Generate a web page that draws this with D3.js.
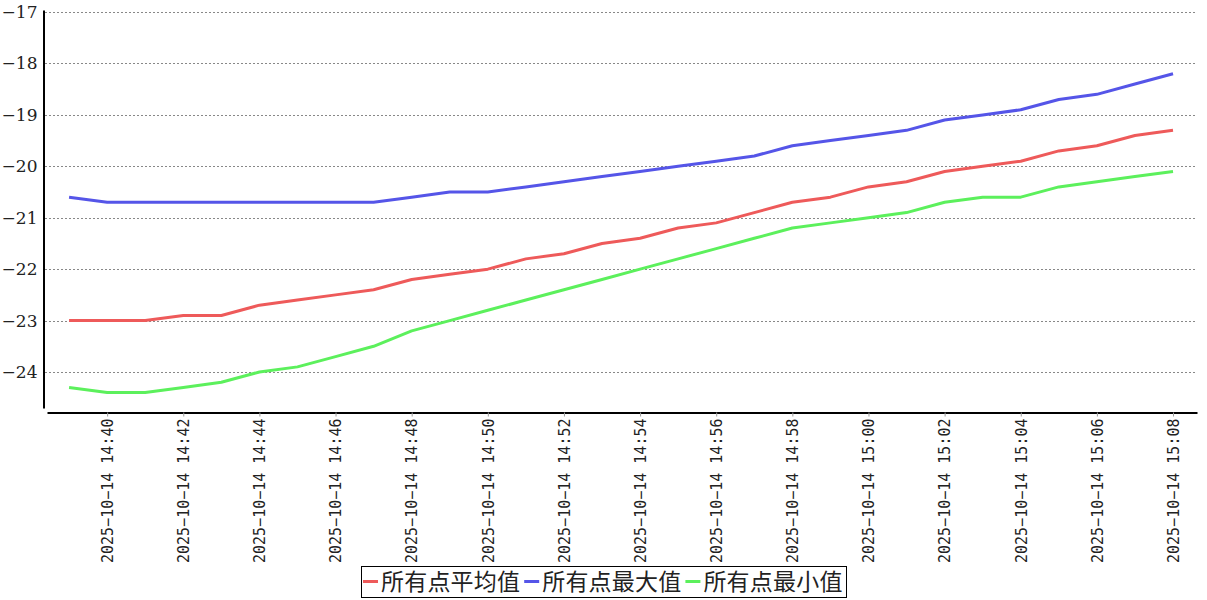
<!DOCTYPE html>
<html><head><meta charset="utf-8">
<script src="https://cdn.jsdelivr.net/npm/d3@7"></script>
<style>body{margin:0;background:#fff}svg{display:block}</style>
</head><body><svg id="c" width="1207" height="600"></svg>
<script>
const times = ["14:39","14:40","14:41","14:42","14:43","14:44","14:45","14:46","14:47","14:48","14:49","14:50","14:51","14:52","14:53","14:54","14:55","14:56","14:57","14:58","14:59","15:00","15:01","15:02","15:03","15:04","15:05","15:06","15:07","15:08"];
const avgVals = [-23.0,-23.0,-23.0,-22.9,-22.9,-22.7,-22.6,-22.5,-22.4,-22.2,-22.1,-22.0,-21.8,-21.7,-21.5,-21.4,-21.2,-21.1,-20.9,-20.7,-20.6,-20.4,-20.3,-20.1,-20.0,-19.9,-19.7,-19.6,-19.4,-19.3];
const maxVals = [-20.6,-20.7,-20.7,-20.7,-20.7,-20.7,-20.7,-20.7,-20.7,-20.6,-20.5,-20.5,-20.4,-20.3,-20.2,-20.1,-20.0,-19.9,-19.8,-19.6,-19.5,-19.4,-19.3,-19.1,-19.0,-18.9,-18.7,-18.6,-18.4,-18.2];
const minVals = [-24.3,-24.4,-24.4,-24.3,-24.2,-24.0,-23.9,-23.7,-23.5,-23.2,-23.0,-22.8,-22.6,-22.4,-22.2,-22.0,-21.8,-21.6,-21.4,-21.2,-21.1,-21.0,-20.9,-20.7,-20.6,-20.6,-20.4,-20.3,-20.2,-20.1];
const yTicks = [-24,-23,-22,-21,-20,-19,-18,-17];
const xTickLabels = ["14:40","14:42","14:44","14:46","14:48","14:50","14:52","14:54","14:56","14:58","15:00","15:02","15:04","15:06","15:08"];
const datePrefix = "2025-10-14";
const seriesNames = ["所有点平均值","所有点最大值","所有点最小值"];
const seriesColors = ["#ee5a5a","#5555e8","#5cf05c"];

const parse = d3.timeParse("%Y-%m-%d %H:%M");
const dates = times.map(t => parse(datePrefix + " " + t));
const svg = d3.select("#c");

const x = d3.scaleTime()
  .domain([parse(datePrefix+" 14:38").getTime() + 0.42*60000, parse(datePrefix+" 15:08").getTime() + 0.63*60000])
  .range([47, 1197]);
const y = d3.scaleLinear().domain([-24.7, -16.96]).range([408, 10]);

// grid
svg.append("g").selectAll("line").data(yTicks).join("line")
  .attr("x1", 45).attr("x2", 1195)
  .attr("y1", d => Math.round(y(d))+0.5).attr("y2", d => Math.round(y(d))+0.5)
  .attr("stroke", "#888").attr("stroke-width", 1).attr("stroke-dasharray", "2,2");

// y axis
const yAxis = svg.append("g").attr("transform", "translate(43.5,0)")
  .call(d3.axisLeft(y).tickValues(yTicks).tickSize(0).tickPadding(6)
    .tickFormat(d => "\u2212" + Math.abs(d)));
yAxis.select(".domain").attr("stroke", "#000").attr("stroke-width", 2);
yAxis.selectAll("text").attr("font-family", "'DejaVu Serif', serif").attr("font-size", 17).attr("fill", "#222");

// x axis
const xTickDates = xTickLabels.map(t => parse(datePrefix+" "+t));
const xAxis = svg.append("g").attr("transform", "translate(0,412.5)")
  .call(d3.axisBottom(x).tickValues(xTickDates).tickSize(4).tickSizeOuter(0)
    .tickFormat(d => d3.timeFormat("%Y\u2212%m\u2212%d %H:%M")(d)));
xAxis.select(".domain").attr("stroke", "#000").attr("stroke-width", 2);
xAxis.selectAll(".tick line").attr("stroke", "#999");
xAxis.selectAll("text")
  .attr("font-family", "'DejaVu Sans Mono', monospace").attr("font-size", 15).attr("fill", "#222")
  .attr("transform", "rotate(-90)").attr("text-anchor", "end")
  .attr("x", -6).attr("y", 0).attr("dy", "0.35em");

// lines
const allSeries = [avgVals, maxVals, minVals];
const line = d3.line().x((d,i) => x(dates[i])).y(d => y(d));
allSeries.forEach((vals, k) => {
  svg.append("path").datum(vals).attr("d", line)
    .attr("fill", "none").attr("stroke", seriesColors[k]).attr("stroke-width", 3)
    .attr("stroke-linejoin", "round");
});

// legend
const lg = svg.append("g");
const box = lg.append("rect").attr("x", 361.5).attr("y", 566.5).attr("width", 485).attr("height", 31)
  .attr("fill", "#fff").attr("stroke", "#000").attr("stroke-width", 1);
let lx = 363;
seriesNames.forEach((n, k) => {
  lg.append("line").attr("x1", lx).attr("x2", lx+15).attr("y1", 581.5).attr("y2", 581.5)
    .attr("stroke", seriesColors[k]).attr("stroke-width", 3);
  const t = lg.append("text").attr("x", lx+18).attr("y", 590).text(n)
    .attr("font-family", "'Noto Sans CJK SC', sans-serif").attr("font-size", 23).attr("fill", "#222")
    .attr("letter-spacing", 0.2);
  lx += 18 + t.node().getComputedTextLength() + 4;
});
box.attr("width", 485);
</script></body></html>
